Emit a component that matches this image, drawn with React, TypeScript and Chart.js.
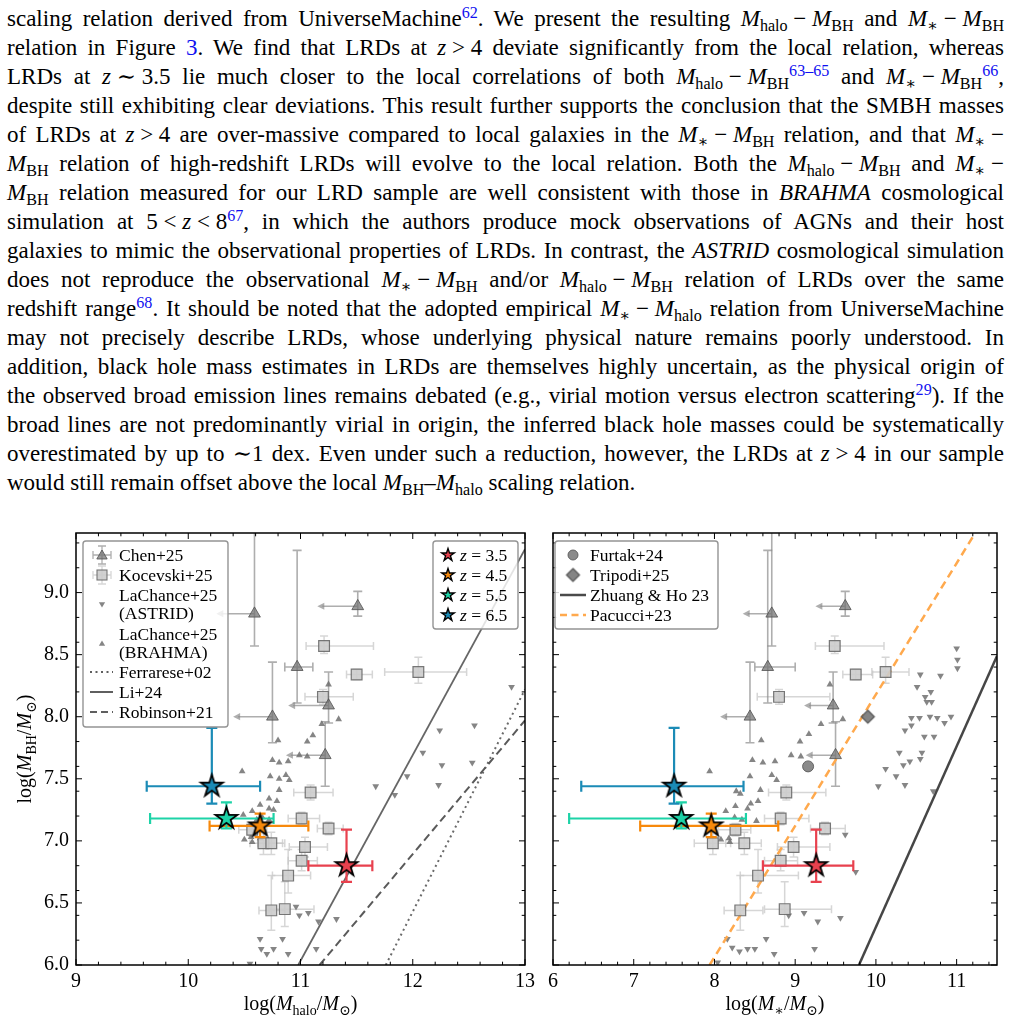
import React, { useEffect, useRef } from 'react';
import { Chart, registerables } from 'chart.js';

Chart.register(...registerables);

const SERIF = "'Liberation Serif', 'Times New Roman', 'DejaVu Serif', serif";
const LINK_BLUE = '#1010f0';

// ---------------- LRD stacks (this work) ----------------
const LRD_Z = ['3.5', '4.5', '5.5', '6.5'];
const LRD_COLORS = ['#e8414e', '#f7890c', '#1dd3a7', '#1b8bb6'];
const LRD_MBH = [6.8, 7.12, 7.18, 7.44];
const LRD_MBH_LO = [6.67, 7.03, 7.1, 7.3];
const LRD_MBH_HI = [7.09, 7.22, 7.31, 7.91];
const LRD_MHALO = [11.41, 10.64, 10.34, 10.21];
const LRD_MHALO_LO = [11.07, 10.19, 9.66, 9.63];
const LRD_MHALO_HI = [11.64, 11.07, 10.76, 10.64];
const LRD_MSTAR = [9.26, 7.96, 7.59, 7.5];
const LRD_MSTAR_LO = [8.6, 7.08, 6.2, 6.35];
const LRD_MSTAR_HI = [9.72, 8.79, 8.39, 8.36];

// ---------------- Chen+25 (x upper limits flagged) ----------------
const CHEN_MBH = [8.83, 8.89, 8.4, 8.0, 8.09, 7.69];
const CHEN_MBH_LO = [8.57, 8.81, 8.11, 7.79, 7.95, 7.44];
const CHEN_MBH_HI = [9.7, 9.01, 9.34, 8.44, 8.36, 7.96];
const CHEN_MHALO = [10.59, 11.51, 10.97, 10.75, 11.25, 11.22];
const CHEN_MHALO_LO = [10.25, 11.15, 10.86, 10.4, 10.89, 10.87];
const CHEN_MHALO_HI = [10.59, 11.51, 11.11, 10.75, 11.25, 11.22];
const CHEN_MSTAR = [8.71, 9.62, 8.66, 8.44, 9.47, 9.5];
const CHEN_MSTAR_LO = [8.35, 9.25, 8.5, 8.07, 9.11, 9.13];
const CHEN_MSTAR_HI = [8.71, 9.62, 9.0, 8.44, 9.47, 9.5];
const CHEN_X_UPPER_LIMIT = [true, true, false, true, true, true];

// ---------------- Kocevski+25 ----------------
const KOC_MBH = [8.57, 8.34, 8.36, 8.16, 7.39, 7.18, 7.1, 6.98, 6.98, 6.95, 6.84, 6.72, 6.44, 6.45, 7.09];
const KOC_MBH_LO = [8.51, 8.3, 8.27, 8.1, 7.33, 7.13, 7.05, 6.89, 6.89, 6.87, 6.76, 6.58, 6.28, 6.31, 7.04];
const KOC_MBH_HI = [8.65, 8.38, 8.48, 8.22, 7.45, 7.23, 7.15, 7.07, 7.07, 7.03, 6.93, 6.93, 6.72, 6.67, 7.14];
const KOC_MHALO = [11.21, 11.5, 12.05, 11.2, 11.09, 11.01, 11.25, 10.67, 10.74, 11.04, 11.01, 10.89, 10.74, 10.86, 10.57];
const KOC_MHALO_LO = [11.05, 11.41, 11.75, 11.04, 10.94, 10.89, 11.15, 10.55, 10.62, 10.9, 10.89, 10.75, 10.63, 10.72, 10.45];
const KOC_MHALO_HI = [11.65, 11.64, 12.48, 11.47, 11.29, 11.17, 11.38, 10.84, 10.86, 11.24, 11.15, 11.09, 10.86, 11.12, 10.7];
const KOC_MSTAR = [9.49, 9.75, 10.12, 8.8, 8.89, 8.82, 9.37, 7.98, 8.37, 8.98, 8.82, 8.54, 8.32, 8.87, 8.26];
const KOC_MSTAR_LO = [9.25, 9.59, 9.95, 8.53, 8.67, 8.62, 9.19, 7.75, 8.14, 8.78, 8.62, 8.32, 8.12, 8.62, 8.05];
const KOC_MSTAR_HI = [10.1, 9.96, 10.41, 9.43, 9.38, 9.17, 9.62, 8.2, 8.58, 9.43, 9.03, 9.04, 8.6, 9.45, 8.45];

// ---------------- Furtak+24 / Tripodi+25 (stellar mass only) ----------------
const FURTAK_MSTAR = [9.16];
const FURTAK_MBH = [7.6];
const TRIPODI_MSTAR = [9.9];
const TRIPODI_MBH = [8.0];

// ---------------- LaChance+25 simulations ----------------
const ASTRID_HALO_X = [12.88, 12.24, 12.55, 12.09, 12.53, 12.26, 11.95, 12.23, 11.67, 11.84, 10.96, 10.99, 11.07, 11.16, 11.32, 10.64, 10.84, 10.65, 10.7, 10.76, 10.89, 11.14, 10.55];
const ASTRID_HALO_Y = [8.24, 7.89, 7.93, 7.71, 7.63, 7.61, 7.52, 7.45, 7.44, 7.37, 6.47, 6.4, 6.42, 6.35, 6.37, 6.21, 6.21, 6.13, 6.09, 6.13, 6.09, 6.13, 6.01];
const ASTRID_STAR_X = [11.0, 11.01, 11.01, 10.55, 10.8, 10.51, 10.68, 10.61, 10.63, 10.69, 10.44, 10.54, 10.67, 10.76, 10.85, 10.93, 10.36, 10.44, 10.6, 10.72, 10.57, 10.29, 10.42, 10.34, 10.12, 10.55, 10.25, 10.36, 10.03, 10.71, 9.62, 9.75, 8.92, 9.11, 9.28, 9.56, 8.16, 8.22, 8.31, 8.41, 8.5, 8.64, 8.74, 9.24, 8.04];
const ASTRID_STAR_Y = [8.55, 8.46, 8.39, 8.34, 8.33, 8.24, 8.2, 8.16, 8.12, 8.12, 7.99, 7.99, 8.0, 7.99, 7.95, 8.0, 7.89, 7.93, 7.84, 7.84, 7.71, 7.71, 7.64, 7.61, 7.58, 7.66, 7.52, 7.45, 7.44, 7.4, 7.05, 6.75, 6.4, 6.42, 6.35, 6.38, 6.21, 6.14, 6.11, 6.13, 6.13, 6.21, 6.09, 6.13, 6.02];
const BRAHMA_HALO_X = [11.25, 11.34, 11.19, 10.8, 11.06, 11.11, 10.75, 10.81, 10.89, 10.99, 11.06, 10.48, 10.73, 10.81, 10.87, 10.9, 10.81, 10.72, 10.79, 10.64, 10.72, 10.76, 10.57, 10.49, 10.66, 10.61, 10.72, 10.5, 10.56, 10.64, 10.57];
const BRAHMA_HALO_Y = [8.26, 7.98, 7.94, 7.81, 7.8, 7.85, 7.65, 7.63, 7.64, 7.69, 7.68, 7.56, 7.52, 7.5, 7.53, 7.49, 7.41, 7.34, 7.32, 7.29, 7.26, 7.25, 7.24, 7.21, 7.19, 7.17, 7.17, 7.01, 7.03, 7.02, 6.99];
const BRAHMA_STAR_X = [9.43, 9.59, 9.32, 9.17, 9.06, 8.58, 8.95, 9.07, 8.47, 8.6, 8.75, 7.94, 8.44, 8.71, 8.77, 8.57, 8.27, 8.32, 8.54, 8.45, 8.41, 8.26, 8.14, 8.25, 8.34, 8.52, 8.08, 8.18, 8.19];
const BRAHMA_STAR_Y = [8.26, 7.98, 7.94, 7.86, 7.8, 7.81, 7.69, 7.68, 7.65, 7.63, 7.64, 7.56, 7.52, 7.53, 7.49, 7.41, 7.4, 7.38, 7.32, 7.3, 7.26, 7.28, 7.24, 7.19, 7.17, 7.16, 7.01, 7.02, 6.99];

// ---------------- local relations (end points across each panel) ----------------
const FERRARESE02_X = [11.76, 13.0];
const FERRARESE02_Y = [6.0, 8.22];
const LI24_X = [10.98, 13.0];
const LI24_Y = [6.0, 9.35];
const ROBINSON21_X = [11.17, 13.0];
const ROBINSON21_Y = [6.0, 7.97];
const ZHUANG23_X = [9.79, 11.5];
const ZHUANG23_Y = [6.0, 8.49];
const PACUCCI23_X = [7.94, 11.23];
const PACUCCI23_Y = [6.0, 9.48];

// ---------------- axes ----------------
const Y_MIN = 6.0;
const Y_MAX = 9.48;
const Y_TICKS = [6.0, 6.5, 7.0, 7.5, 8.0, 8.5, 9.0];
const X_TICKS_HALO = [9, 10, 11, 12, 13];
const X_TICKS_STAR = [6, 7, 8, 9, 10, 11];

// ---------------- rich text on canvas ----------------
type Seg = { t: string; i?: boolean; sub?: boolean };

function fontOf(s: Seg, size: number) {
  return `${s.i ? 'italic ' : ''}${s.sub ? size * 0.7 : size}px ${SERIF}`;
}
function richWidth(ctx: CanvasRenderingContext2D, segs: Seg[], size: number) {
  let w = 0;
  for (const s of segs) {
    ctx.font = fontOf(s, size);
    w += ctx.measureText(s.t).width;
  }
  return w;
}
function drawRich(ctx: CanvasRenderingContext2D, segs: Seg[], x: number, baseline: number, size: number, align = 'left') {
  ctx.save();
  ctx.textBaseline = 'alphabetic';
  ctx.textAlign = 'left';
  ctx.fillStyle = '#000';
  let cx = align === 'center' ? x - richWidth(ctx, segs, size) / 2 : x;
  for (const s of segs) {
    ctx.font = fontOf(s, size);
    ctx.fillText(s.t, cx, baseline + (s.sub ? size * 0.24 : 0));
    cx += ctx.measureText(s.t).width;
  }
  ctx.restore();
}

const Y_TITLE: Seg[] = [{ t: 'log(' }, { t: 'M', i: true }, { t: 'BH', sub: true }, { t: '/' }, { t: 'M', i: true }, { t: '⊙', sub: true }, { t: ')' }];
const X_TITLE_HALO: Seg[] = [{ t: 'log(' }, { t: 'M', i: true }, { t: 'halo', sub: true }, { t: '/' }, { t: 'M', i: true }, { t: '⊙', sub: true }, { t: ')' }];
const X_TITLE_STAR: Seg[] = [{ t: 'log(' }, { t: 'M', i: true }, { t: '∗', sub: true }, { t: '/' }, { t: 'M', i: true }, { t: '⊙', sub: true }, { t: ')' }];

// ---------------- marker sprites ----------------
function makeStar(fill: string, R: number, lw: number) {
  const pad = Math.ceil(lw * 2) + 2;
  const size = Math.ceil(2 * R + 2 * pad);
  const c = document.createElement('canvas');
  c.width = size;
  c.height = size;
  const g = c.getContext('2d')!;
  const cx = size / 2;
  const cy = size / 2;
  g.beginPath();
  for (let k = 0; k < 10; k++) {
    const r = k % 2 === 0 ? R : R * 0.382;
    const a = -Math.PI / 2 + (k * Math.PI) / 5;
    const px = cx + r * Math.cos(a);
    const py = cy + r * Math.sin(a);
    if (k === 0) g.moveTo(px, py);
    else g.lineTo(px, py);
  }
  g.closePath();
  g.fillStyle = fill;
  g.fill();
  g.lineJoin = 'miter';
  g.lineWidth = lw;
  g.strokeStyle = '#000';
  g.stroke();
  return c;
}

function makeDiamond(fill: string, stroke: string, h: number) {
  const size = Math.ceil(2 * h + 4);
  const c = document.createElement('canvas');
  c.width = size;
  c.height = size;
  const g = c.getContext('2d')!;
  const m = size / 2;
  g.beginPath();
  g.moveTo(m, m - h);
  g.lineTo(m + h, m);
  g.lineTo(m, m + h);
  g.lineTo(m - h, m);
  g.closePath();
  g.fillStyle = fill;
  g.fill();
  g.lineWidth = 1.2;
  g.strokeStyle = stroke;
  g.stroke();
  return c;
}

// ---------------- small drawing helpers ----------------
function seg(ctx: CanvasRenderingContext2D, x1: number, y1: number, x2: number, y2: number) {
  ctx.moveTo(x1, y1);
  ctx.lineTo(x2, y2);
}

function drawTri(ctx: CanvasRenderingContext2D, x: number, y: number, r: number, down: boolean, fill: string, stroke?: string) {
  const s = down ? -1 : 1;
  ctx.beginPath();
  ctx.moveTo(x, y - s * r);
  ctx.lineTo(x + r * 0.866, y + s * r * 0.5);
  ctx.lineTo(x - r * 0.866, y + s * r * 0.5);
  ctx.closePath();
  ctx.fillStyle = fill;
  ctx.fill();
  if (stroke) {
    ctx.strokeStyle = stroke;
    ctx.lineWidth = 1;
    ctx.stroke();
  }
}

const CHEN_FILL = 'rgba(118,118,118,0.75)';
const CHEN_EDGE = 'rgba(80,80,80,0.8)';
const CHEN_ERR = 'rgba(140,140,140,0.7)';
const KOC_FILL = 'rgba(204,204,204,0.9)';
const KOC_EDGE = 'rgba(105,105,105,0.9)';
const KOC_ERR = 'rgba(200,200,200,0.75)';
const SIM_FILL = 'rgba(112,112,112,0.85)';

type ErrOpt = { color: string; lw: number; cap: number; arrow?: boolean };

function drawErr(ctx: CanvasRenderingContext2D, sx: any, sy: any, xv: number, yv: number, xlo: number, xhi: number, ylo: number, yhi: number, o: ErrOpt) {
  const px = sx.getPixelForValue(xv);
  const py = sy.getPixelForValue(yv);
  ctx.strokeStyle = o.color;
  ctx.fillStyle = o.color;
  ctx.lineWidth = o.lw;
  ctx.beginPath();
  const y1 = sy.getPixelForValue(ylo);
  const y2 = sy.getPixelForValue(yhi);
  if (Math.abs(y1 - y2) > 0.5) {
    seg(ctx, px, y1, px, y2);
    seg(ctx, px - o.cap, y1, px + o.cap, y1);
    seg(ctx, px - o.cap, y2, px + o.cap, y2);
  }
  const x1 = sx.getPixelForValue(xlo);
  const x2 = sx.getPixelForValue(xhi);
  if (o.arrow) {
    seg(ctx, x1 + 5, py, px, py);
  } else if (Math.abs(x2 - x1) > 0.5) {
    seg(ctx, x1, py, x2, py);
    seg(ctx, x1, py - o.cap, x1, py + o.cap);
    seg(ctx, x2, py - o.cap, x2, py + o.cap);
  }
  ctx.stroke();
  if (o.arrow) {
    ctx.beginPath();
    ctx.moveTo(x1, py);
    ctx.lineTo(x1 + 7, py - 3.6);
    ctx.lineTo(x1 + 7, py + 3.6);
    ctx.closePath();
    ctx.fill();
  }
}

function legendBox(ctx: CanvasRenderingContext2D, x: number, y: number, w: number, h: number) {
  ctx.save();
  ctx.beginPath();
  ctx.roundRect(x, y, w, h, 3);
  ctx.fillStyle = 'rgba(255,255,255,0.82)';
  ctx.fill();
  ctx.strokeStyle = '#949494';
  ctx.lineWidth = 1.4;
  ctx.stroke();
  ctx.restore();
}

const LEG_SIZE = 17.5;
function legText(ctx: CanvasRenderingContext2D, segs: Seg[], x: number, yc: number) {
  drawRich(ctx, segs, x, yc + LEG_SIZE * 0.33, LEG_SIZE, 'left');
}
function legLine(ctx: CanvasRenderingContext2D, x1: number, x2: number, y: number, color: string, lw: number, dash: number[]) {
  ctx.save();
  ctx.beginPath();
  ctx.setLineDash(dash);
  ctx.strokeStyle = color;
  ctx.lineWidth = lw;
  seg(ctx, x1, y, x2, y);
  ctx.stroke();
  ctx.restore();
}

// legends of the halo-mass panel (page coordinates)
function drawHaloLegends(ctx: CanvasRenderingContext2D, stars: HTMLCanvasElement[]) {
  legendBox(ctx, 83, 541, 145, 186);
  const mx = 102;
  const tx = 119;
  // Chen+25
  ctx.save();
  ctx.strokeStyle = CHEN_ERR;
  ctx.lineWidth = 1.3;
  ctx.beginPath();
  seg(ctx, mx - 9, 555, mx + 9, 555);
  seg(ctx, mx - 9, 551, mx - 9, 559);
  seg(ctx, mx + 9, 551, mx + 9, 559);
  seg(ctx, mx, 546, mx, 564);
  seg(ctx, mx - 4, 546, mx + 4, 546);
  seg(ctx, mx - 4, 564, mx + 4, 564);
  ctx.stroke();
  drawTri(ctx, mx, 556, 6, false, CHEN_FILL, CHEN_EDGE);
  ctx.restore();
  legText(ctx, [{ t: 'Chen+25' }], tx, 555);
  // Kocevski+25
  ctx.save();
  ctx.strokeStyle = KOC_ERR;
  ctx.lineWidth = 1.3;
  ctx.beginPath();
  seg(ctx, mx - 9, 575, mx + 9, 575);
  seg(ctx, mx - 9, 571, mx - 9, 579);
  seg(ctx, mx + 9, 571, mx + 9, 579);
  seg(ctx, mx, 566, mx, 584);
  seg(ctx, mx - 4, 566, mx + 4, 566);
  seg(ctx, mx - 4, 584, mx + 4, 584);
  ctx.stroke();
  ctx.fillStyle = KOC_FILL;
  ctx.strokeStyle = KOC_EDGE;
  ctx.lineWidth = 1.1;
  ctx.fillRect(mx - 5, 570, 10, 10);
  ctx.strokeRect(mx - 5, 570, 10, 10);
  ctx.restore();
  legText(ctx, [{ t: 'Kocevski+25' }], tx, 575);
  // LaChance+25 ASTRID / BRAHMA
  drawTri(ctx, mx, 604, 3.6, true, SIM_FILL);
  legText(ctx, [{ t: 'LaChance+25' }], tx, 595);
  legText(ctx, [{ t: '(ASTRID)' }], tx, 613);
  drawTri(ctx, mx, 644, 3.6, false, SIM_FILL);
  legText(ctx, [{ t: 'LaChance+25' }], tx, 634);
  legText(ctx, [{ t: '(BRAHMA)' }], tx, 652);
  // relations
  legLine(ctx, 90, 113, 672, '#5f5f5f', 2, [2, 3.5]);
  legText(ctx, [{ t: 'Ferrarese+02' }], tx, 672);
  legLine(ctx, 90, 113, 692, '#5f5f5f', 2, []);
  legText(ctx, [{ t: 'Li+24' }], tx, 692);
  legLine(ctx, 90, 113, 712, '#5f5f5f', 2, [7, 4]);
  legText(ctx, [{ t: 'Robinson+21' }], tx, 712);

  // redshift legend
  legendBox(ctx, 433, 541, 85, 88);
  const ys = [555, 575, 595, 615];
  for (let i = 0; i < LRD_Z.length; i++) {
    const im = stars[i];
    ctx.drawImage(im, 448 - im.width / 2, ys[i] - im.height / 2);
    legText(ctx, [{ t: 'z', i: true }, { t: ' = ' + LRD_Z[i] }], 460, ys[i]);
  }
}

// legend of the stellar-mass panel (page coordinates)
function drawStarLegend(ctx: CanvasRenderingContext2D, diamond: HTMLCanvasElement) {
  legendBox(ctx, 555, 541, 163, 88);
  const mx = 573;
  const tx = 590;
  ctx.save();
  ctx.beginPath();
  ctx.arc(mx, 555, 5, 0, Math.PI * 2);
  ctx.fillStyle = 'rgba(125,125,125,0.9)';
  ctx.fill();
  ctx.strokeStyle = 'rgba(90,90,90,0.9)';
  ctx.lineWidth = 1;
  ctx.stroke();
  ctx.restore();
  legText(ctx, [{ t: 'Furtak+24' }], tx, 555);
  ctx.drawImage(diamond, mx - diamond.width / 2, 575 - diamond.height / 2);
  legText(ctx, [{ t: 'Tripodi+25' }], tx, 575);
  legLine(ctx, 560, 586, 595, '#4a4a4a', 2.5, []);
  legText(ctx, [{ t: 'Zhuang & Ho 23' }], tx, 595);
  legLine(ctx, 560, 586, 615, '#ffa94d', 2.5, [7, 4.5]);
  legText(ctx, [{ t: 'Pacucci+23' }], tx, 615);
}

function minorTicks(min: number, max: number, step: number, majors: number[]) {
  const out: number[] = [];
  const n = Math.floor((max - min) / step + 1e-6);
  for (let k = 0; k <= n; k++) {
    const v = Math.round((min + k * step) * 1000) / 1000;
    if (!majors.some((m) => Math.abs(m - v) < 1e-6) && Math.abs(v * 2 - Math.round(v * 2)) > 1e-6) out.push(v);
  }
  return out;
}

type Panel = {
  box: { x: number; y: number; w: number; h: number };
  padding: { top: number; right: number; left: number; bottom: number };
  xMin: number;
  xMax: number;
  xTicks: number[];
  xTitle: Seg[];
  showY: boolean;
  lrdX: number[];
  lrdXLo: number[];
  lrdXHi: number[];
  chenX: number[];
  chenXLo: number[];
  chenXHi: number[];
  kocX: number[];
  kocXLo: number[];
  kocXHi: number[];
  astridX: number[];
  astridY: number[];
  brahmaX: number[];
  brahmaY: number[];
  lines: { label: string; x: number[]; y: number[]; color: string; width: number; dash: number[] }[];
  stellar: boolean;
};

const HALO_PANEL: Panel = {
  box: { x: 0, y: 500, w: 540, h: 526 },
  padding: { top: 33, right: 14, left: 0, bottom: 0 },
  xMin: 9,
  xMax: 13,
  xTicks: X_TICKS_HALO,
  xTitle: X_TITLE_HALO,
  showY: true,
  lrdX: LRD_MHALO,
  lrdXLo: LRD_MHALO_LO,
  lrdXHi: LRD_MHALO_HI,
  chenX: CHEN_MHALO,
  chenXLo: CHEN_MHALO_LO,
  chenXHi: CHEN_MHALO_HI,
  kocX: KOC_MHALO,
  kocXLo: KOC_MHALO_LO,
  kocXHi: KOC_MHALO_HI,
  astridX: ASTRID_HALO_X,
  astridY: ASTRID_HALO_Y,
  brahmaX: BRAHMA_HALO_X,
  brahmaY: BRAHMA_HALO_Y,
  lines: [
    { label: 'Li+24', x: LI24_X, y: LI24_Y, color: '#666666', width: 1.8, dash: [] },
    { label: 'Robinson+21', x: ROBINSON21_X, y: ROBINSON21_Y, color: '#5a5a5a', width: 2, dash: [8, 4.5] },
    { label: 'Ferrarese+02', x: FERRARESE02_X, y: FERRARESE02_Y, color: '#6a6a6a', width: 2, dash: [2, 3.5] },
  ],
  stellar: false,
};

const STAR_PANEL: Panel = {
  box: { x: 540, y: 500, w: 473, h: 526 },
  padding: { top: 33, right: 16, left: 7, bottom: 0 },
  xMin: 6,
  xMax: 11.5,
  xTicks: X_TICKS_STAR,
  xTitle: X_TITLE_STAR,
  showY: false,
  lrdX: LRD_MSTAR,
  lrdXLo: LRD_MSTAR_LO,
  lrdXHi: LRD_MSTAR_HI,
  chenX: CHEN_MSTAR,
  chenXLo: CHEN_MSTAR_LO,
  chenXHi: CHEN_MSTAR_HI,
  kocX: KOC_MSTAR,
  kocXLo: KOC_MSTAR_LO,
  kocXHi: KOC_MSTAR_HI,
  astridX: ASTRID_STAR_X,
  astridY: ASTRID_STAR_Y,
  brahmaX: BRAHMA_STAR_X,
  brahmaY: BRAHMA_STAR_Y,
  lines: [
    { label: 'Zhuang & Ho 23', x: ZHUANG23_X, y: ZHUANG23_Y, color: '#464646', width: 2.5, dash: [] },
    { label: 'Pacucci+23', x: PACUCCI23_X, y: PACUCCI23_Y, color: '#ffa94d', width: 2.5, dash: [8, 5] },
  ],
  stellar: true,
};

function pts(xs: number[], ys: number[]) {
  return xs.map((x, i) => ({ x, y: ys[i] }));
}

function buildChart(canvas: HTMLCanvasElement, p: Panel) {
  const stars = LRD_COLORS.map((c) => makeStar(c, 11.5, 1.8));
  const legendStars = LRD_COLORS.map((c) => makeStar(c, 6.6, 1.4));
  const diamond = makeDiamond('rgba(125,125,125,0.95)', 'rgba(80,80,80,0.95)', 6.5);

  const datasets: any[] = [
    {
      label: 'LRDs',
      data: pts(p.lrdX, LRD_MBH),
      pointStyle: stars,
      pointRadius: 12,
    },
  ];
  if (p.stellar) {
    datasets.push({ label: 'Tripodi+25', data: pts(TRIPODI_MSTAR, TRIPODI_MBH), pointStyle: diamond, pointRadius: 7 });
    datasets.push({
      label: 'Furtak+24',
      data: pts(FURTAK_MSTAR, FURTAK_MBH),
      pointStyle: 'circle',
      pointRadius: 5.5,
      backgroundColor: 'rgba(125,125,125,0.9)',
      borderColor: 'rgba(90,90,90,0.9)',
      borderWidth: 1,
    });
  }
  datasets.push({
    label: 'Chen+25',
    data: pts(p.chenX, CHEN_MBH),
    pointStyle: 'triangle',
    pointRadius: 6.8,
    backgroundColor: CHEN_FILL,
    borderColor: CHEN_EDGE,
    borderWidth: 1,
  });
  datasets.push({
    label: 'Kocevski+25',
    data: pts(p.kocX, KOC_MBH),
    pointStyle: 'rect',
    pointRadius: 7.6,
    backgroundColor: KOC_FILL,
    borderColor: KOC_EDGE,
    borderWidth: 1.2,
  });
  for (const l of p.lines) {
    datasets.push({
      label: l.label,
      data: pts(l.x, l.y),
      showLine: true,
      pointRadius: 0,
      borderColor: l.color,
      borderWidth: l.width,
      borderDash: l.dash,
      fill: false,
      tension: 0,
    });
  }
  datasets.push({
    label: 'LaChance+25 (ASTRID)',
    data: pts(p.astridX, p.astridY),
    pointStyle: 'triangle',
    rotation: 180,
    pointRadius: 3.9,
    backgroundColor: SIM_FILL,
    borderWidth: 0,
  });
  datasets.push({
    label: 'LaChance+25 (BRAHMA)',
    data: pts(p.brahmaX, p.brahmaY),
    pointStyle: 'triangle',
    pointRadius: 3.9,
    backgroundColor: SIM_FILL,
    borderWidth: 0,
  });

  const xMinor = minorTicks(p.xMin, p.xMax, 0.2, p.xTicks);
  const yMinor = minorTicks(Y_MIN, Y_MAX, 0.2, Y_TICKS);

  const decor = {
    id: 'panelDecor',
    beforeDatasetsDraw(chart: any) {
      const { ctx, chartArea: a, scales } = chart;
      const sx = scales.x;
      const sy = scales.y;
      ctx.save();
      ctx.beginPath();
      ctx.rect(a.left, a.top, a.right - a.left, a.bottom - a.top);
      ctx.clip();
      for (let i = 0; i < KOC_MBH.length; i++) {
        drawErr(ctx, sx, sy, p.kocX[i], KOC_MBH[i], p.kocXLo[i], p.kocXHi[i], KOC_MBH_LO[i], KOC_MBH_HI[i], { color: KOC_ERR, lw: 1.5, cap: 4 });
      }
      for (let i = 0; i < CHEN_MBH.length; i++) {
        drawErr(ctx, sx, sy, p.chenX[i], CHEN_MBH[i], p.chenXLo[i], p.chenXHi[i], CHEN_MBH_LO[i], CHEN_MBH_HI[i], {
          color: CHEN_ERR,
          lw: 1.6,
          cap: 4.5,
          arrow: CHEN_X_UPPER_LIMIT[i],
        });
      }
      ctx.restore();
    },
    beforeDatasetDraw(chart: any, args: any) {
      if (args.index !== 0) return;
      const { ctx, scales } = chart;
      ctx.save();
      for (let i = 0; i < LRD_MBH.length; i++) {
        drawErr(ctx, scales.x, scales.y, p.lrdX[i], LRD_MBH[i], p.lrdXLo[i], p.lrdXHi[i], LRD_MBH_LO[i], LRD_MBH_HI[i], {
          color: LRD_COLORS[i],
          lw: 2.2,
          cap: 5.5,
        });
      }
      ctx.restore();
    },
    afterDatasetsDraw(chart: any) {
      const { ctx, chartArea: a, scales } = chart;
      const sx = scales.x;
      const sy = scales.y;
      ctx.save();
      // inward ticks on all four sides
      ctx.strokeStyle = '#000';
      ctx.lineWidth = 1;
      ctx.beginPath();
      for (const v of p.xTicks) {
        const x = sx.getPixelForValue(v);
        seg(ctx, x, a.bottom, x, a.bottom - 6);
        seg(ctx, x, a.top, x, a.top + 6);
      }
      for (const v of xMinor) {
        const x = sx.getPixelForValue(v);
        seg(ctx, x, a.bottom, x, a.bottom - 3.3);
        seg(ctx, x, a.top, x, a.top + 3.3);
      }
      for (const v of Y_TICKS) {
        const y = sy.getPixelForValue(v);
        seg(ctx, a.left, y, a.left + 6, y);
        seg(ctx, a.right, y, a.right - 6, y);
      }
      for (const v of yMinor) {
        const y = sy.getPixelForValue(v);
        seg(ctx, a.left, y, a.left + 3.3, y);
        seg(ctx, a.right, y, a.right - 3.3, y);
      }
      ctx.stroke();
      ctx.lineWidth = 1.5;
      ctx.strokeRect(a.left, a.top, a.right - a.left, a.bottom - a.top);

      // legends and axis titles, laid out in page coordinates
      ctx.translate(-p.box.x, -p.box.y);
      if (p.stellar) drawStarLegend(ctx, diamond);
      else drawHaloLegends(ctx, legendStars);
      const cx = p.box.x + (a.left + a.right) / 2;
      drawRich(ctx, p.xTitle, cx, 1010, 20, 'center');
      if (p.showY) {
        ctx.save();
        ctx.translate(24, p.box.y + (a.top + a.bottom) / 2);
        ctx.rotate(-Math.PI / 2);
        drawRich(ctx, Y_TITLE, 0, 7, 20, 'center');
        ctx.restore();
      }
      ctx.restore();
    },
  };

  const tickFont = { family: SERIF, size: 20 };
  return new Chart(canvas, {
    type: 'scatter',
    data: { datasets },
    options: {
      animation: false,
      responsive: false,
      devicePixelRatio: 1,
      events: [],
      layout: { padding: p.padding },
      plugins: { legend: { display: false }, tooltip: { enabled: false } },
      scales: {
        x: {
          type: 'linear',
          min: p.xMin,
          max: p.xMax,
          grid: { display: false, drawTicks: false },
          border: { display: false },
          ticks: {
            font: tickFont,
            color: '#000',
            padding: 5,
            maxRotation: 0,
            autoSkip: false,
            callback: (v: any) => Number(v).toFixed(0),
          },
          afterBuildTicks: (s: any) => {
            s.ticks = p.xTicks.map((value) => ({ value }));
          },
          afterFit: (s: any) => {
            s.height = 61;
          },
        },
        y: {
          type: 'linear',
          display: p.showY,
          min: Y_MIN,
          max: Y_MAX,
          grid: { display: false, drawTicks: false },
          border: { display: false },
          ticks: {
            font: tickFont,
            color: '#000',
            padding: 7,
            autoSkip: false,
            callback: (v: any) => Number(v).toFixed(1),
          },
          afterBuildTicks: (s: any) => {
            s.ticks = Y_TICKS.map((value) => ({ value }));
          },
          afterFit: (s: any) => {
            s.width = p.showY ? 76 : 0;
          },
        },
      },
    },
    plugins: [decor],
  } as any);
}

// ---------------- running text above the figure ----------------
const SP = '\u2005';
const Sb = ({ children }: { children: any }) => (
  <span style={{ fontSize: '0.7em', position: 'relative', top: '0.28em', lineHeight: 0 }}>{children}</span>
);
const Ref = ({ children }: { children: any }) => (
  <span style={{ fontSize: '0.7em', position: 'relative', top: '-0.5em', lineHeight: 0, color: LINK_BLUE }}>{children}</span>
);
const Mx = ({ s }: { s: string }) => (
  <>
    <i>M</i>
    <Sb>{s}</Sb>
  </>
);
const Z = () => <i>z</i>;
const minus = `${SP}−${SP}`;

const PARAGRAPH: any[] = [
  <>
    scaling relation derived from UniverseMachine<Ref>62</Ref>. We present the resulting <Mx s="halo" />{minus}<Mx s="BH" /> and <Mx s="∗" />{minus}<Mx s="BH" />
  </>,
  <>
    relation in Figure <span style={{ color: LINK_BLUE }}>3</span>. We find that LRDs at <Z />{SP}&gt;{SP}4 deviate significantly from the local relation, whereas
  </>,
  <>
    LRDs at <Z />{SP}∼{SP}3.5 lie much closer to the local correlations of both <Mx s="halo" />{minus}<Mx s="BH" />
    <Ref>63–65</Ref> and <Mx s="∗" />{minus}<Mx s="BH" />
    <Ref>66</Ref>,
  </>,
  <>despite still exhibiting clear deviations. This result further supports the conclusion that the SMBH masses</>,
  <>
    of LRDs at <Z />{SP}&gt;{SP}4 are over-massive compared to local galaxies in the <Mx s="∗" />{minus}<Mx s="BH" /> relation, and that <Mx s="∗" />{SP}−
  </>,
  <>
    <Mx s="BH" /> relation of high-redshift LRDs will evolve to the local relation. Both the <Mx s="halo" />{minus}<Mx s="BH" /> and <Mx s="∗" />{SP}−
  </>,
  <>
    <Mx s="BH" /> relation measured for our LRD sample are well consistent with those in <i>BRAHMA</i> cosmological
  </>,
  <>
    simulation at 5{SP}&lt;{SP}<Z />{SP}&lt;{SP}8<Ref>67</Ref>, in which the authors produce mock observations of AGNs and their host
  </>,
  <>
    galaxies to mimic the observational properties of LRDs. In contrast, the <i>ASTRID</i> cosmological simulation
  </>,
  <>
    does not reproduce the observational <Mx s="∗" />{minus}<Mx s="BH" /> and/or <Mx s="halo" />{minus}<Mx s="BH" /> relation of LRDs over the same
  </>,
  <>
    redshift range<Ref>68</Ref>. It should be noted that the adopted empirical <Mx s="∗" />{minus}<Mx s="halo" /> relation from UniverseMachine
  </>,
  <>may not precisely describe LRDs, whose underlying physical nature remains poorly understood. In</>,
  <>addition, black hole mass estimates in LRDs are themselves highly uncertain, as the physical origin of</>,
  <>
    the observed broad emission lines remains debated (e.g., virial motion versus electron scattering<Ref>29</Ref>). If the
  </>,
  <>broad lines are not predominantly virial in origin, the inferred black hole masses could be systematically</>,
  <>
    overestimated by up to ∼1 dex. Even under such a reduction, however, the LRDs at <Z />{SP}&gt;{SP}4 in our sample
  </>,
  <>
    would still remain offset above the local <Mx s="BH" />–<Mx s="halo" /> scaling relation.
  </>,
];

const LINE_TOP = 4;
const LINE_STEP = 29;

export default function App() {
  const haloRef = useRef<HTMLCanvasElement>(null);
  const starRef = useRef<HTMLCanvasElement>(null);

  useEffect(() => {
    const c1 = buildChart(haloRef.current!, HALO_PANEL);
    const c2 = buildChart(starRef.current!, STAR_PANEL);
    return () => {
      c1.destroy();
      c2.destroy();
    };
  }, []);

  return (
    <div style={{ position: 'absolute', left: 0, top: 0, width: 1013, height: 1026, background: '#fff', overflow: 'hidden' }}>
      {PARAGRAPH.map((ln, i) => {
        const last = i === PARAGRAPH.length - 1;
        return (
          <div
            key={i}
            style={{
              position: 'absolute',
              left: 7,
              top: LINE_TOP + i * LINE_STEP,
              width: 997,
              height: LINE_STEP,
              lineHeight: `${LINE_STEP}px`,
              fontSize: 23,
              fontFamily: SERIF,
              color: '#000',
              whiteSpace: 'nowrap',
              textAlign: last ? 'left' : 'justify',
              textAlignLast: last ? 'left' : 'justify',
            }}
          >
            {ln}
          </div>
        );
      })}
      <canvas
        ref={haloRef}
        width={HALO_PANEL.box.w}
        height={HALO_PANEL.box.h}
        style={{ position: 'absolute', left: HALO_PANEL.box.x, top: HALO_PANEL.box.y, width: HALO_PANEL.box.w, height: HALO_PANEL.box.h }}
      />
      <canvas
        ref={starRef}
        width={STAR_PANEL.box.w}
        height={STAR_PANEL.box.h}
        style={{ position: 'absolute', left: STAR_PANEL.box.x, top: STAR_PANEL.box.y, width: STAR_PANEL.box.w, height: STAR_PANEL.box.h }}
      />
    </div>
  );
}
